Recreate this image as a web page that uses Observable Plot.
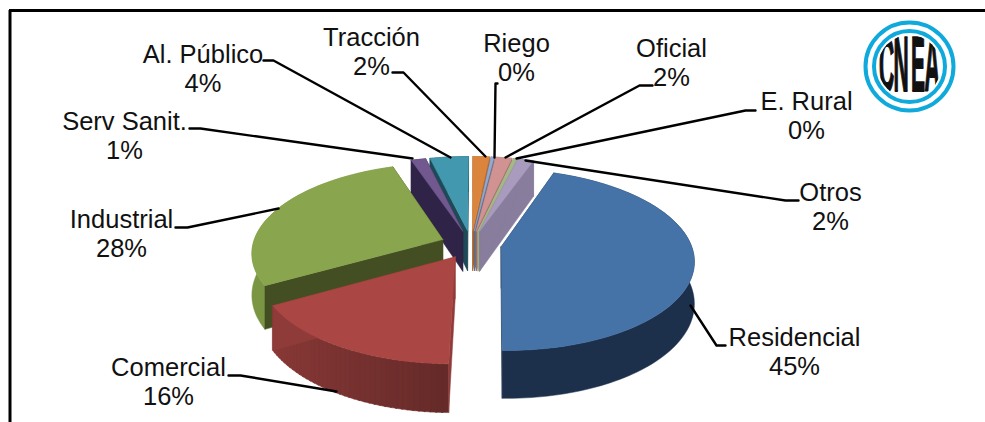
<!DOCTYPE html>
<html><head><meta charset="utf-8">
<script src="https://cdn.jsdelivr.net/npm/d3@7"></script>
<script src="https://cdn.jsdelivr.net/npm/@observablehq/plot@0.6"></script>
<style>html,body{margin:0;padding:0;background:#fff}svg{display:block}</style>
</head><body><div id="c"></div>
<script>
const categories = ["Residencial","Comercial","Industrial","Serv Sanit.","Al. Público","Tracción","Riego","Oficial","E. Rural","Otros"];
const values = [44.9,16.5,28.1,1.45,3.78,1.62,0.3,1.6,0.3,1.55];
const percentLabels = ["45%","16%","28%","1%","4%","2%","0%","2%","0%","2%"];
const topColors  = ["#4573a7","#aa4643","#89a54e","#71588f","#4198af","#db843d","#93a9cf","#d19392","#a5b889","#a99bbd"];
const wallColors = ["#1c304c","#7a3331","#7a9643","#2f2347","#1d4a56","#a8652c","#5d6d88","#9d6f6e","#8a9a6e","#887d9c"];
const radialColors = ["#1c304c","#8f3b39","#434f22","#2f2347","#1d4a56","#a8652c","#5d6d88","#9d6f6e","#a0b080","#887d9c"];
// label layout: text centre, then the leader from elbow to pie
const labelX = [794,168,121,124,202.5,371,516,671,806,830];
const labelY = [351,381,233,135,68,51,57,62,115,206];
const leaders = [
 [[725,345],[716,345],[690,305]],
 [[228,375],[240,375],[336,391]],
 [[175,227],[187,227],[278,208]],
 [[189,128],[200,128],[412,158]],
 [[263,60],[273,60],[450,157]],
 [[392,72],[403,72],[485,156]],
 [[497,83],[495,83],[494,157]],
 [[652,85],[639,85],[505,157]],
 [[755,110],[745,110],[516,158]],
 [[798,200],[785,200],[525,160]]
];
const START_DEG = 19.5, CX = 470.5, CY = 244, RX = 190, RY = 88.2, P = 0.14, EXPLODE = 0.16, DEPTH = 41;
const rad = d => d * Math.PI / 180;
const total = d3.sum(values);
let acc = START_DEG;
const slices = values.map((v, i) => {
  const a0 = acc, a1 = acc + v / total * 360; acc = a1;
  const m = rad((a0 + a1) / 2);
  return {i, a0, a1, ex: EXPLODE * Math.sin(m), ez: EXPLODE * Math.cos(m)};
});
function proj(X, Z, low) {
  const w = 1 + P * Z;
  return {x: CX + RX * X / w, y: CY - RY * Z / w + (low ? DEPTH / w : 0)};
}
function rim(s, deg, low) { return proj(s.ex + Math.sin(rad(deg)), s.ez + Math.cos(rad(deg)), low); }
function apex(s, low) { return proj(s.ex, s.ez, low); }
const polys = [];
let pid = 0;
function add(points, color) { const id = pid++; const pts = [...points, points[0]]; pts.forEach(p => polys.push({...p, id, color})); }
function shade(c, k) { const q = d3.rgb(c); return d3.rgb(q.r * k, q.g * k, q.b * k).formatHex(); }
function drawSlice(s) {
  const n = Math.max(2, Math.ceil((s.a1 - s.a0) / 1.5));
  const at = j => s.a0 + (s.a1 - s.a0) * j / n;
  if (s.i === 1) {
    for (let j = 0; j < n; j++) {
      const mid = rad((at(j) + at(j + 1)) / 2);
      add([rim(s, at(j)), rim(s, at(j + 1) + 0.4), rim(s, at(j + 1) + 0.4, true), rim(s, at(j), true)],
          shade(wallColors[1], 0.82 + 0.345 * Math.max(0, -Math.sin(mid))));
    }
  } else {
    const upper = d3.range(n + 1).map(j => rim(s, at(j)));
    const lower = d3.range(n, -1, -1).map(j => rim(s, at(j), true));
    add([...upper, ...lower], wallColors[s.i]);
  }
  add([apex(s), rim(s, s.a1), rim(s, s.a1, true), apex(s, true)], radialColors[s.i]);
  add([apex(s), rim(s, s.a0), rim(s, s.a0, true), apex(s, true)], radialColors[s.i]);
  add([apex(s), ...d3.range(n + 1).map(j => rim(s, at(j)))], topColors[s.i]);
}
[4,3,5,6,7,8,9,2,1,0].forEach(i => drawSlice(slices[i]));

const leaderRows = leaders.flatMap((l, i) => l.map(p => ({x: p[0], y: p[1], i})));
const labelRows = categories.map((c, i) => ({x: labelX[i], y: labelY[i], t: c + "\n" + percentLabels[i]}));

const LOGO = {x: 909, y: 66};
const logoLetters = [{t:"C",x:886},{t:"N",x:900.5},{t:"E",x:917.5},{t:"A",x:931.5}];
const plot = Plot.plot({
  width: 985, height: 422, margin: 0,
  x: {domain: [0, 985], range: [0, 985], axis: null},
  y: {domain: [0, 422], range: [0, 422], axis: null},
  color: {type: "identity"},
  marks: [
    Plot.ruleY([10], {x1: 9, x2: 985, stroke: "#000", strokeWidth: 3}),
    Plot.ruleX([9.5], {y1: 10, y2: 422, stroke: "#000", strokeWidth: 3}),
    Plot.line(polys, {x: "x", y: "y", z: "id", fill: "color", stroke: "color", strokeWidth: 0.5, curve: "linear"}),
    Plot.line(leaderRows, {x: "x", y: "y", z: "i", stroke: "#000", strokeWidth: 2.4, curve: "linear"}),
    Plot.text(labelRows, {x: "x", y: "y", text: "t", fontSize: 25.5, lineHeight: 1.14, fill: "#111", fontFamily: "Liberation Sans"}),
    Plot.dot([LOGO], {x: "x", y: "y", r: 44, stroke: "#0faadb", strokeWidth: 4, fill: "none"}),
    Plot.dot([LOGO], {x: "x", y: "y", r: 35.5, stroke: "#0faadb", strokeWidth: 4, fill: "none"}),
    Plot.text(logoLetters, {x: "x", y: LOGO.y, text: "t", fontSize: 78, fontWeight: "bold", fill: "#111", stroke: "#111", strokeWidth: 2,
      className: "logo", fontFamily: "Liberation Sans"})
  ]
});
d3.select(plot).selectAll(".logo text").each(function () {
  const t = d3.select(this);
  t.attr("transform", t.attr("transform") + " scale(0.27,1)");
});
d3.select(plot).append("defs").append("clipPath").attr("id", "lc").append("circle").attr("cx", LOGO.x).attr("cy", LOGO.y).attr("r", 31.5);
d3.select(plot).selectAll("g.logo").attr("clip-path", "url(#lc)");
document.getElementById("c").appendChild(plot);
</script></body></html>
